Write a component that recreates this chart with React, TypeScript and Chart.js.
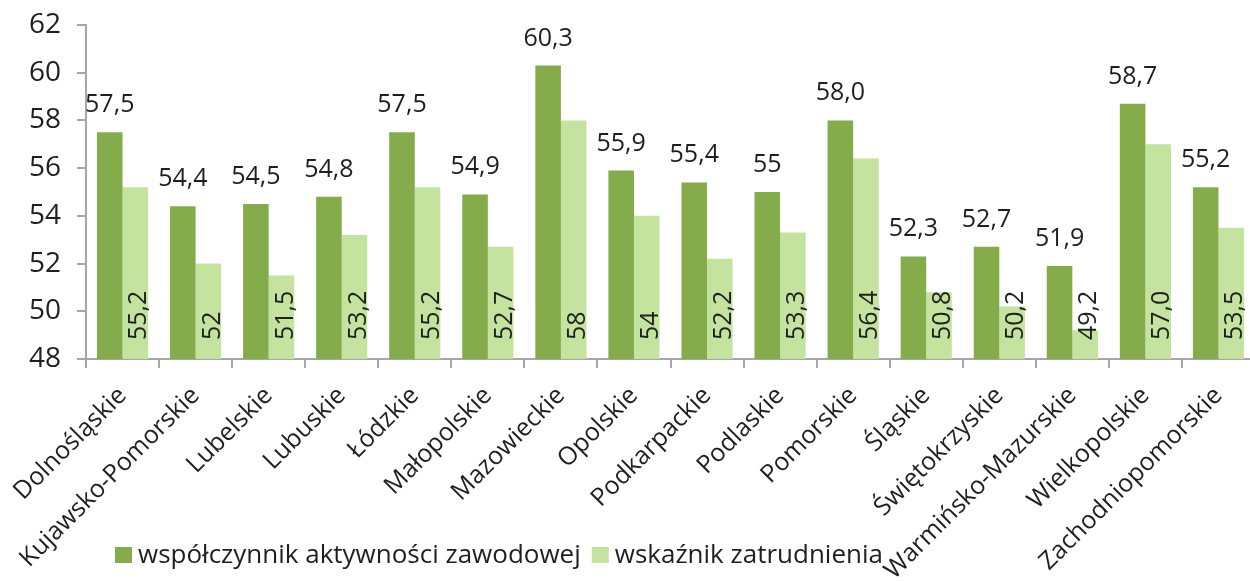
import React, { useEffect, useRef } from 'react';
import { Chart, registerables } from 'chart.js';

Chart.register(...registerables);

const categories = [
  'Dolnośląskie',
  'Kujawsko-Pomorskie',
  'Lubelskie',
  'Lubuskie',
  'Łódzkie',
  'Małopolskie',
  'Mazowieckie',
  'Opolskie',
  'Podkarpackie',
  'Podlaskie',
  'Pomorskie',
  'Śląskie',
  'Świętokrzyskie',
  'Warmińsko-Mazurskie',
  'Wielkopolskie',
  'Zachodniopomorskie',
];

const seriesNames = ['współczynnik aktywności zawodowej', 'wskaźnik zatrudnienia'];

const activityRate = [57.5, 54.4, 54.5, 54.8, 57.5, 54.9, 60.3, 55.9, 55.4, 55, 58.0, 52.3, 52.7, 51.9, 58.7, 55.2];
const employmentRate = [55.2, 52, 51.5, 53.2, 55.2, 52.7, 58, 54, 52.2, 53.3, 56.4, 50.8, 50.2, 49.2, 57.0, 53.5];

const activityLabels = ['57,5', '54,4', '54,5', '54,8', '57,5', '54,9', '60,3', '55,9', '55,4', '55', '58,0', '52,3', '52,7', '51,9', '58,7', '55,2'];
const employmentLabels = ['55,2', '52', '51,5', '53,2', '55,2', '52,7', '58', '54', '52,2', '53,3', '56,4', '50,8', '50,2', '49,2', '57,0', '53,5'];

const yMin = 48;
const yMax = 62;
const yStep = 2;

const DARK = '#84ac4b';
const LIGHT = '#c3e39e';
const TEXT = '#1f1f1f';
const AXIS = '#a6a6a6';
const FONT = "'Open Sans', sans-serif";

const labelsPlugin = {
  id: 'valueLabels',
  afterDatasetsDraw(chart: any) {
    const ctx = chart.ctx;
    const base = chart.scales.y.getPixelForValue(yMin);
    ctx.save();
    ctx.fillStyle = TEXT;
    ctx.font = `25px ${FONT}`;
    const m0 = chart.getDatasetMeta(0);
    m0.data.forEach((bar: any, i: number) => {
      ctx.textAlign = 'center';
      ctx.textBaseline = 'alphabetic';
      ctx.fillText(activityLabels[i], bar.x, bar.y - 20);
    });
    const m1 = chart.getDatasetMeta(1);
    m1.data.forEach((bar: any, i: number) => {
      ctx.save();
      ctx.translate(bar.x + 4, base - 19);
      ctx.rotate(-Math.PI / 2);
      ctx.textAlign = 'left';
      ctx.textBaseline = 'middle';
      ctx.fillText(employmentLabels[i], 0, 0);
      ctx.restore();
    });
    ctx.restore();
  },
};

const legendPlugin = {
  id: 'customLegend',
  afterDraw(chart: any) {
    const ctx = chart.ctx;
    const area = chart.chartArea;
    ctx.save();
    ctx.font = `26px ${FONT}`;
    ctx.textAlign = 'left';
    ctx.textBaseline = 'alphabetic';
    let x = area.left + 29;
    const boxTop = 547;
    const baseline = 563;
    const colors = [DARK, LIGHT];
    seriesNames.forEach((name, i) => {
      ctx.fillStyle = colors[i];
      ctx.fillRect(x, boxTop, 17, 16);
      x += 23;
      ctx.fillStyle = TEXT;
      ctx.fillText(name, x, baseline);
      x += ctx.measureText(name).width + 11;
    });
    ctx.restore();
  },
};

export default function App() {
  const ref = useRef<HTMLCanvasElement | null>(null);

  useEffect(() => {
    if (!ref.current) return;
    const chart = new Chart(ref.current, {
      type: 'bar',
      data: {
        labels: categories,
        datasets: [
          {
            label: seriesNames[0],
            data: activityRate,
            backgroundColor: DARK,
            categoryPercentage: 0.7,
            barPercentage: 1.0,
          },
          {
            label: seriesNames[1],
            data: employmentRate,
            backgroundColor: LIGHT,
            categoryPercentage: 0.7,
            barPercentage: 1.0,
          },
        ],
      },
      options: {
        responsive: false,
        animation: false,
        devicePixelRatio: 1,
        layout: { padding: { top: 25, left: 0, right: 0, bottom: 0 } },
        plugins: {
          legend: { display: false },
          tooltip: { enabled: false },
        },
        scales: {
          x: {
            grid: {
              display: true,
              drawOnChartArea: false,
              drawTicks: true,
              tickLength: 9,
              color: AXIS,
              lineWidth: 2,
              offset: true,
            },
            border: { display: true, color: AXIS, width: 2 },
            ticks: {
              autoSkip: false,
              maxRotation: 45,
              minRotation: 45,
              padding: 13,
              color: TEXT,
              font: { family: FONT, size: 25 },
            },
            afterFit(scale: any) {
              scale.height = 222;
            },
          },
          y: {
            min: yMin,
            max: yMax,
            grid: {
              display: true,
              drawOnChartArea: false,
              drawTicks: true,
              tickLength: 9,
              color: AXIS,
              lineWidth: 2,
            },
            border: { display: true, color: AXIS, width: 2 },
            ticks: {
              stepSize: yStep,
              padding: 16,
              color: TEXT,
              font: { family: FONT, size: 28 },
            },
            afterFit(scale: any) {
              scale.width = 86;
              scale.paddingTop = 0;
              scale.paddingBottom = 0;
            },
          },
        },
      },
      plugins: [labelsPlugin, legendPlugin],
    });
    return () => chart.destroy();
  }, []);

  return (
    <div style={{ position: 'absolute', left: 0, top: 0, width: 1250, height: 581, overflow: 'hidden', background: '#fff' }}>
      <canvas ref={ref} width={1255} height={581} style={{ display: 'block' }} />
    </div>
  );
}
